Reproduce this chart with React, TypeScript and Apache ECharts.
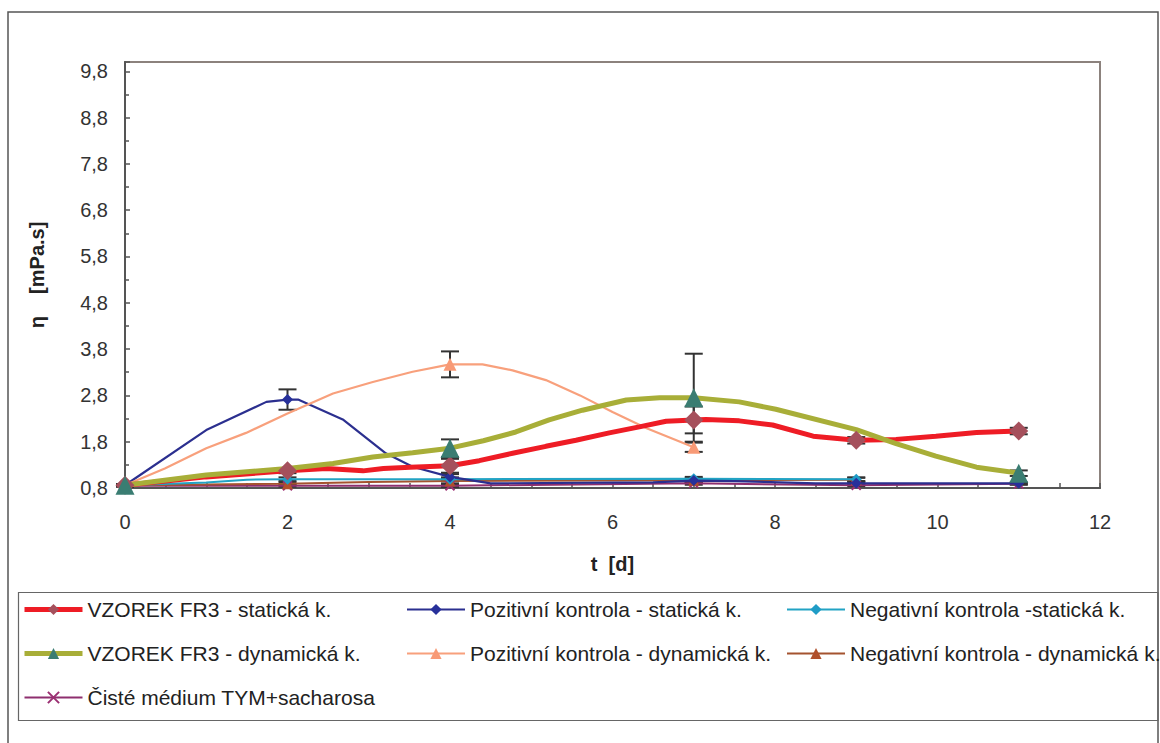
import React, { useEffect, useRef } from "react";
import * as echarts from "echarts";

// ---- data ----
const xTicks = [0, 2, 4, 6, 8, 10, 12];

// VZOREK FR3 - statická k.
const vzStatX = [0, 1, 2, 2.48, 2.93, 3.18, 3.51, 4, 4.36, 4.77, 5.18, 5.55, 5.96, 6.33, 6.66, 7, 7.15, 7.56, 7.97, 8.47, 9, 9.49, 9.98, 10.48, 11];
const vzStatY = [0.86, 1.04, 1.17, 1.22, 1.17, 1.22, 1.25, 1.28, 1.39, 1.55, 1.7, 1.83, 1.99, 2.12, 2.24, 2.27, 2.28, 2.25, 2.16, 1.92, 1.83, 1.85, 1.92, 2.0, 2.03];
const vzStatMarks = [0, 2, 4, 7, 9, 11];
const vzStatErr = [0.02, 0.05, 0.15, 0.29, 0.07, 0.07];

// Pozitivní kontrola - statická k.
const pozStatX = [0, 1, 1.74, 2, 2.13, 2.68, 3.21, 3.54, 4, 4.5, 6.5, 7, 7.5, 8.5, 9, 11];
const pozStatY = [0.86, 2.05, 2.66, 2.71, 2.71, 2.28, 1.55, 1.26, 1.04, 0.9, 0.92, 0.96, 0.95, 0.9, 0.9, 0.9];
const pozStatMarks = [0, 2, 4, 7, 9, 11];
const pozStatErr = [0.02, 0.22, 0.06, 0.03, 0.02, 0.02];

// Negativní kontrola -statická k.
const negStatX = [0, 1, 1.5, 2, 4, 7, 9];
const negStatY = [0.86, 0.92, 0.98, 0.99, 0.99, 1.0, 0.99];
const negStatMarks = [0, 2, 4, 7, 9];
const negStatErr = [0.02, 0.04, 0.04, 0.04, 0.04];

// VZOREK FR3 - dynamická k.
const vzDynX = [0, 1, 2, 2.56, 3.05, 3.54, 4, 4.41, 4.81, 5.22, 5.63, 6.17, 6.58, 7, 7.56, 8.01, 9, 9.49, 9.98, 10.48, 11];
const vzDynY = [0.86, 1.08, 1.22, 1.33, 1.47, 1.56, 1.66, 1.82, 2.01, 2.27, 2.48, 2.7, 2.75, 2.75, 2.66, 2.5, 2.06, 1.76, 1.49, 1.25, 1.12];
const vzDynMarks = [0, 4, 7, 11];
const vzDynErr = [0.02, 0.19, 0.95, 0.06];

// Pozitivní kontrola - dynamická k.
const pozDynX = [0, 0.49, 1, 1.49, 2, 2.56, 3.05, 3.54, 4, 4.4, 4.77, 5.18, 5.6, 6.0, 6.42, 7];
const pozDynY = [0.86, 1.22, 1.66, 1.99, 2.41, 2.84, 3.09, 3.31, 3.47, 3.47, 3.34, 3.13, 2.8, 2.44, 2.09, 1.68];
const pozDynMarks = [0, 4, 7];
const pozDynErr = [0.02, 0.28, 0.1];

// Negativní kontrola - dynamická k.
const negDynX = [0, 2, 3, 4, 7, 9];
const negDynY = [0.86, 0.89, 0.93, 0.95, 0.97, 0.98];
const negDynMarks = [0, 2, 4, 7, 9];
const negDynErr = [0.02, 0.03, 0.05, 0.04, 0.04];

// Čisté médium TYM+sacharosa
const tymX = [0, 2, 4, 7, 9, 11];
const tymY = [0.85, 0.85, 0.85, 0.9, 0.86, 0.89];
const tymMarks = [0, 2, 4, 7, 9, 11];
const tymErr = [0.02, 0.02, 0.03, 0.03, 0.02, 0.02];

const names = {
  vzStat: "VZOREK FR3 - statická k.",
  pozStat: "Pozitivní kontrola - statická k.",
  negStat: "Negativní kontrola -statická k.",
  vzDyn: "VZOREK FR3 - dynamická k.",
  pozDyn: "Pozitivní kontrola - dynamická k.",
  negDyn: "Negativní kontrola - dynamická k.",
  tym: "Čisté médium TYM+sacharosa",
};

const FONT = "'Liberation Sans', Arial, sans-serif";

function lineData(xs: number[], ys: number[], marks: number[]) {
  return xs.map((x, i) =>
    marks.includes(x) ? { value: [x, ys[i]] } : { value: [x, ys[i]], symbol: "none" }
  );
}

function errData(xs: number[], ys: number[], marks: number[], errs: number[]) {
  return marks.map((m, i) => [m, ys[xs.indexOf(m)], errs[i]]);
}

export default function App() {
  const ref = useRef<HTMLDivElement>(null);
  useEffect(() => {
    if (!ref.current) return;
    const chart = echarts.init(ref.current, undefined, { renderer: "svg" });

    const mk = (
      name: string,
      xs: number[],
      ys: number[],
      marks: number[],
      lineColor: string,
      lineWidth: number,
      symbol: string,
      symbolSize: number,
      symColor: string,
      extraItem: any = {}
    ) => ({
      type: "line",
      name,
      data: lineData(xs, ys, marks),
      symbol,
      symbolSize,
      showAllSymbol: true,
      smooth: false,
      z: 3,
      lineStyle: { color: lineColor, width: lineWidth },
      itemStyle: { color: symColor, ...extraItem },
      emphasis: { disabled: true },
    });

    const errSeries = (data: number[][]) => ({
      type: "custom",
      z: 2,
      silent: true,
      data,
      encode: { x: 0, y: 1 },
      renderItem: (params: any, api: any) => {
        const x = api.value(0);
        const y = api.value(1);
        const e = api.value(2);
        const top = api.coord([x, y + e]);
        const bot = api.coord([x, y - e]);
        const hw = 9;
        const st = { stroke: "#333333", lineWidth: 2 };
        return {
          type: "group",
          children: [
            { type: "line", shape: { x1: top[0], y1: top[1], x2: bot[0], y2: bot[1] }, style: st },
            { type: "line", shape: { x1: top[0] - hw, y1: top[1], x2: top[0] + hw, y2: top[1] }, style: st },
            { type: "line", shape: { x1: bot[0] - hw, y1: bot[1], x2: bot[0] + hw, y2: bot[1] }, style: st },
          ],
        };
      },
    });

    const crossPath = "path://M0,0L10,10M10,0L0,10";

    const legendCommon = {
      orient: "vertical",
      top: 599,
      itemWidth: 58,
      itemHeight: 14,
      itemGap: 23,
      padding: 0,
      selectedMode: false,
      textStyle: { fontFamily: FONT, fontSize: 21, color: "#222", lineHeight: 20, padding: [0, 0, 0, 0] },
    };

    const option: any = {
      animation: false,
      backgroundColor: "#ffffff",
      textStyle: { fontFamily: FONT },
      grid: {
        left: 125,
        right: 60,
        top: 62,
        bottom: 255,
        show: true,
        borderColor: "#8c827d",
        borderWidth: 2,
        backgroundColor: "transparent",
      },
      xAxis: {
        type: "value",
        min: xTicks[0],
        max: xTicks[xTicks.length - 1],
        interval: 2,
        name: "t  [d]",
        nameLocation: "middle",
        nameGap: 66,
        nameTextStyle: { fontFamily: FONT, fontSize: 20, fontWeight: "bold", color: "#222" },
        axisLine: { show: true, lineStyle: { color: "#555", width: 2 } },
        axisTick: { show: true, inside: true, length: 5, lineStyle: { color: "#555", width: 1.5 } },
        minorTick: { show: true, splitNumber: 4, length: 5, lineStyle: { color: "#555", width: 1.5 } },
        axisLabel: { fontFamily: FONT, fontSize: 20, color: "#333", margin: 24 },
        splitLine: { show: false },
        minorSplitLine: { show: false },
      },
      yAxis: {
        type: "value",
        min: 0.8,
        max: 10,
        interval: 1,
        name: "η    [mPa.s]",
        nameLocation: "middle",
        nameRotate: 90,
        nameGap: 78,
        nameTextStyle: { fontFamily: FONT, fontSize: 20, fontWeight: "bold", color: "#222" },
        axisLine: { show: true, lineStyle: { color: "#555", width: 2 } },
        axisTick: { show: true, inside: true, length: 5, lineStyle: { color: "#555", width: 1.5 } },
        minorTick: { show: true, splitNumber: 2, length: 4, lineStyle: { color: "#555", width: 1.5 } },
        axisLabel: {
          fontFamily: FONT,
          fontSize: 20,
          color: "#333",
          margin: 17,
          showMaxLabel: false,
          formatter: (v: number) => v.toFixed(1).replace(".", ","),
        },
        splitLine: { show: false },
        minorSplitLine: { show: false },
      },
      legend: [
        {
          ...legendCommon,
          left: 22,
          data: [
            { name: names.vzStat, lineStyle: { width: 5 } },
            { name: names.vzDyn, lineStyle: { width: 5 } },
            { name: names.tym },
          ],
        },
        { ...legendCommon, left: 406, data: [names.pozStat, names.pozDyn] },
        { ...legendCommon, left: 786, data: [names.negStat, names.negDyn] },
      ],
      graphic: [
        {
          type: "rect",
          silent: true,
          z: -1,
          shape: { x: 8, y: 12, width: 1150, height: 760 },
          style: { fill: "none", stroke: "#555", lineWidth: 1.5 },
        },
        {
          type: "rect",
          silent: true,
          z: -1,
          shape: { x: 18.5, y: 592.5, width: 1139.5, height: 128 },
          style: { fill: "none", stroke: "#666", lineWidth: 1.2 },
        },
      ],
      series: [
        errSeries(errData(tymX, tymY, tymMarks, tymErr)),
        errSeries(errData(negDynX, negDynY, negDynMarks, negDynErr)),
        errSeries(errData(negStatX, negStatY, negStatMarks, negStatErr)),
        errSeries(errData(pozStatX, pozStatY, pozStatMarks, pozStatErr)),
        errSeries(errData(pozDynX, pozDynY, pozDynMarks, pozDynErr)),
        errSeries(errData(vzStatX, vzStatY, vzStatMarks, vzStatErr)),
        errSeries(errData(vzDynX, vzDynY, vzDynMarks, vzDynErr)),
        mk(names.tym, tymX, tymY, tymMarks, "#8e2f6f", 2, crossPath, 9, "transparent", { borderColor: "#9b2f72", borderWidth: 2 }),
        mk(names.negDyn, negDynX, negDynY, negDynMarks, "#a4532f", 2, "triangle", 11, "#b0502c"),
        mk(names.negStat, negStatX, negStatY, negStatMarks, "#22a3c4", 2, "diamond", 11, "#1f9cc6"),
        mk(names.pozStat, pozStatX, pozStatY, pozStatMarks, "#2b2f8f", 2.2, "diamond", 11, "#27309a"),
        mk(names.pozDyn, pozDynX, pozDynY, pozDynMarks, "#f8a07c", 2.2, "triangle", 13, "#f89a76"),
        mk(names.vzStat, vzStatX, vzStatY, vzStatMarks, "#ee1c25", 5, "diamond", 19, "#a5505c"),
        mk(names.vzDyn, vzDynX, vzDynY, vzDynMarks, "#a8ae38", 5, "triangle", 19, "#3a7d72"),
      ],
    };

    chart.setOption(option);
    return () => chart.dispose();
  }, []);

  return (
    <div
      ref={ref}
      style={{ position: "absolute", left: 0, top: 0, width: 1160, height: 743, background: "#fff" }}
    />
  );
}
